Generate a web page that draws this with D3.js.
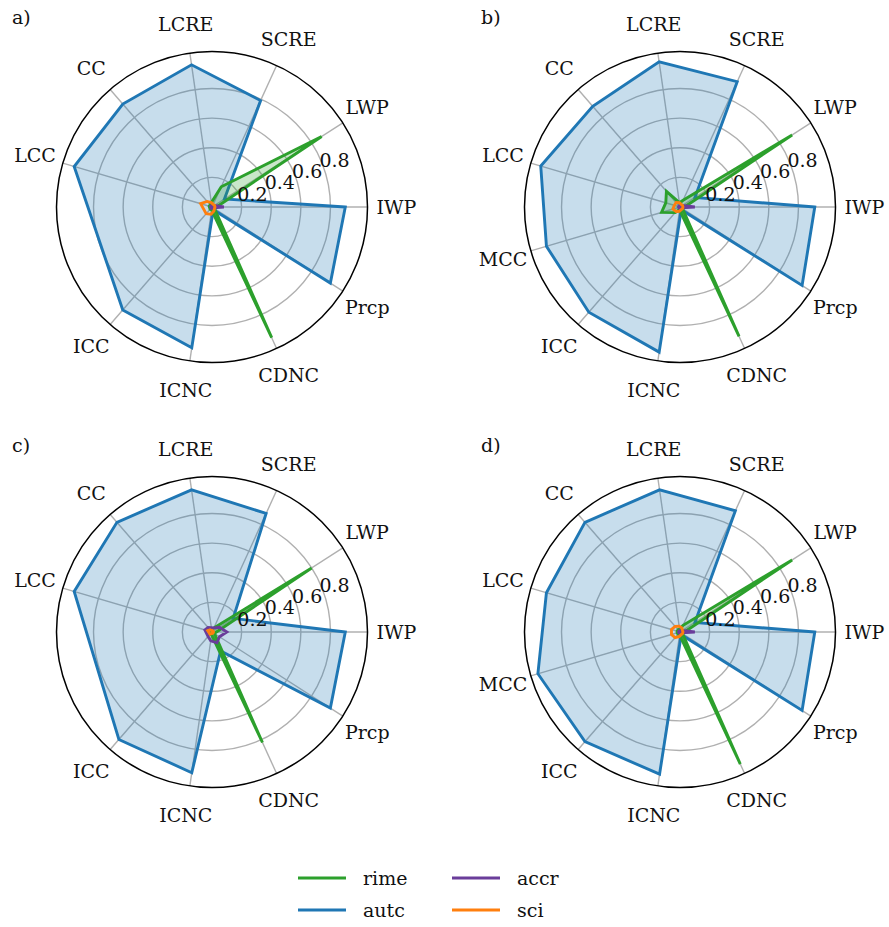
<!DOCTYPE html>
<html>
<head>
<meta charset="utf-8">
<script src="https://cdn.jsdelivr.net/npm/d3@7"></script>
<style>
  body { margin: 0; background: #fff; }
</style>
</head>
<body>
<svg id="chart" width="889" height="927" font-family="'DejaVu Serif', 'Liberation Serif', serif"></svg>
<script>
// full axis list, counter-clockwise from east; panels a and c skip MCC
var axesAll = ["IWP", "LWP", "SCRE", "LCRE", "CC", "LCC", "MCC", "ICC", "ICNC", "CDNC", "Prcp"]
var ticks = [0.2, 0.4, 0.6, 0.8]
var seriesNames = ["rime", "autc", "accr", "sci"]
var colors = { rime: "#2ca02c", autc: "#1f77b4", accr: "#6a3d9a", sci: "#ff7f0e" }

// values per panel, in the order of axesAll (null = axis absent)
var autcA = [0.90, 0.10, 0.79, 0.97, 0.92, 0.97, null, 0.92, 0.96, 0.02, 0.95]
var rimeA = [0.03, 0.88, 0.15, 0.03, 0.02, 0.02, null, 0.02, 0.02, 0.97, 0.02]
var accrA = [0.08, 0.02, 0.01, 0.01, 0.01, 0.01, null, 0.01, 0.01, 0.01, 0.01]
var sciA  = [0.02, 0.02, 0.02, 0.03, 0.05, 0.08, null, 0.06, 0.05, 0.03, 0.02]

var autcB = [0.91, 0.12, 0.93, 0.99, 0.90, 0.98, 0.94, 0.94, 0.99, 0.02, 0.98]
var rimeB = [0.03, 0.90, 0.05, 0.03, 0.14, 0.10, 0.13, 0.05, 0.02, 0.96, 0.02]
var accrB = [0.10, 0.02, 0.01, 0.01, 0.01, 0.01, 0.01, 0.01, 0.01, 0.01, 0.01]
var sciB  = [0.02, 0.02, 0.02, 0.03, 0.04, 0.04, 0.05, 0.04, 0.03, 0.02, 0.02]

var autcC = [0.90, 0.17, 0.88, 0.97, 0.98, 0.97, null, 0.96, 0.96, 0.14, 0.95]
var rimeC = [0.03, 0.80, 0.03, 0.02, 0.02, 0.02, null, 0.02, 0.02, 0.82, 0.02]
var accrC = [0.10, 0.06, 0.03, 0.03, 0.04, 0.05, null, 0.04, 0.06, 0.08, 0.06]
var sciC  = [0.01, 0.01, 0.01, 0.01, 0.02, 0.03, null, 0.02, 0.01, 0.01, 0.01]

var autcD = [0.91, 0.12, 0.90, 0.97, 0.98, 0.94, 1.00, 0.98, 0.97, 0.02, 0.98]
var rimeD = [0.03, 0.90, 0.05, 0.02, 0.02, 0.02, 0.02, 0.02, 0.02, 0.98, 0.02]
var accrD = [0.10, 0.02, 0.01, 0.01, 0.01, 0.01, 0.01, 0.01, 0.01, 0.01, 0.01]
var sciD  = [0.02, 0.02, 0.03, 0.04, 0.05, 0.06, 0.06, 0.05, 0.03, 0.02, 0.02]

var panels = [
  { tag: "a)", cx: 212, cy: 207, lx: 12, ly: 24, data: { rime: rimeA, autc: autcA, accr: accrA, sci: sciA } },
  { tag: "b)", cx: 680, cy: 207, lx: 481, ly: 24, data: { rime: rimeB, autc: autcB, accr: accrB, sci: sciB } },
  { tag: "c)", cx: 212, cy: 632, lx: 12, ly: 452, data: { rime: rimeC, autc: autcC, accr: accrC, sci: sciC } },
  { tag: "d)", cx: 680, cy: 632, lx: 481, ly: 452, data: { rime: rimeD, autc: autcD, accr: accrD, sci: sciD } }
]

var svg = d3.select("#chart")
var r = d3.scaleLinear().domain([0, 1.05]).range([0, 155.5])
var ang = d3.scaleLinear().domain([0, axesAll.length]).range([0, 2 * Math.PI])

function pt(i, v) {
  var a = ang(i)
  return [r(v) * Math.cos(a), -r(v) * Math.sin(a)]
}

panels.forEach(function(p) {
  var g = svg.append("g").attr("transform", "translate(" + p.cx + "," + p.cy + ")")
  var idx = d3.range(axesAll.length).filter(function(i) { return p.data.autc[i] !== null })

  g.selectAll("circle.grid").data(ticks).enter().append("circle")
    .attr("r", function(d) { return r(d) })
    .attr("fill", "none").attr("stroke", "#b0b0b0").attr("stroke-width", 1.4)

  g.selectAll("line.spoke").data(idx).enter().append("line")
    .attr("x1", 0).attr("y1", 0)
    .attr("x2", function(i) { return pt(i, 1.05)[0] })
    .attr("y2", function(i) { return pt(i, 1.05)[1] })
    .attr("stroke", "#b0b0b0").attr("stroke-width", 1.4)

  var line = d3.line().curve(d3.curveLinearClosed)

  ;["autc", "rime", "accr", "sci"].forEach(function(s) {
    var pts = idx.map(function(i) { return pt(i, p.data[s][i]) })
    if (s === "autc" || s === "rime") {
      g.append("path").attr("d", line(pts)).attr("fill", colors[s]).attr("fill-opacity", 0.25).attr("stroke", "none")
    }
    g.append("path").attr("d", line(pts)).attr("fill", "none")
      .attr("stroke", colors[s]).attr("stroke-width", 2.9).attr("stroke-linejoin", "miter")
  })

  g.append("circle").attr("r", r(1.05)).attr("fill", "none").attr("stroke", "#000").attr("stroke-width", 1.5)

  var ta = 22.5 * Math.PI / 180
  g.selectAll("text.tick").data(ticks).enter().append("text")
    .attr("x", function(d) { return r(d) * Math.cos(ta) - 2 })
    .attr("y", function(d) { return -r(d) * Math.sin(ta) + 5 })
    .attr("font-size", 19).attr("fill", "#111")
    .text(function(d) { return d.toFixed(1) })

  g.selectAll("text.cat").data(idx).enter().append("text")
    .attr("x", function(i) { return pt(i, 1.05)[0] + 29 * Math.cos(ang(i)) })
    .attr("y", function(i) { return pt(i, 1.05)[1] - 29 * Math.sin(ang(i)) })
    .attr("text-anchor", "middle").attr("dominant-baseline", "central")
    .attr("font-size", 19).attr("fill", "#111")
    .text(function(i) { return axesAll[i] })

  svg.append("text").attr("x", p.lx).attr("y", p.ly).attr("font-size", 19).attr("fill", "#111").text(p.tag)
})

// legend
var leg = svg.append("g")
var legPos = { rime: [298, 878], autc: [298, 910], accr: [452, 878], sci: [452, 910] }
seriesNames.forEach(function(s) {
  var q = legPos[s]
  leg.append("line").attr("x1", q[0]).attr("x2", q[0] + 48).attr("y1", q[1]).attr("y2", q[1])
    .attr("stroke", colors[s]).attr("stroke-width", 2.9)
  leg.append("text").attr("x", q[0] + 65).attr("y", q[1]).attr("dominant-baseline", "central")
    .attr("font-size", 19).attr("fill", "#111").text(s)
})
</script>
</body>
</html>
